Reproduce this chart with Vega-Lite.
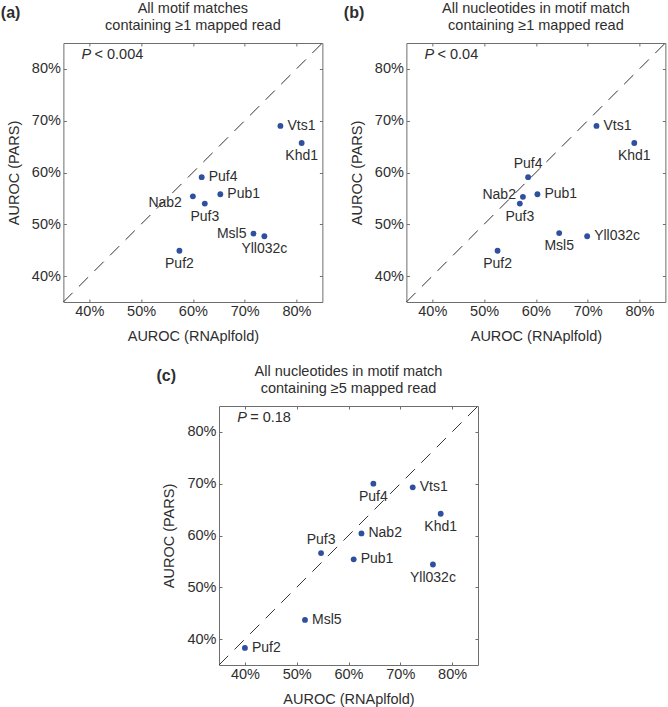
{
  "$schema": "https://vega.github.io/schema/vega-lite/v6.json",
  "padding": {"left": 0, "top": 0, "right": 2, "bottom": 0},
  "background": "white",
  "config": {
    "font": "Liberation Sans",
    "view": {"stroke": "#6e6e6e", "strokeWidth": 1},
    "axis": {
      "grid": false, "domain": false,
      "labelFontSize": 14.5, "titleFontSize": 14.5, "titleFontWeight": "normal",
      "labelColor": "#2e2e2e", "titleColor": "#2e2e2e",
      "tickColor": "#6e6e6e", "tickSize": -3
    },
    "axisX": {"labelPadding": 5, "titlePadding": 12},
    "axisY": {"labelPadding": 6, "titlePadding": 10},
    "title": {"fontSize": 14.5, "fontWeight": "normal", "color": "#2e2e2e", "lineHeight": 17},
    "text": {"font": "Liberation Sans", "fontSize": 14, "color": "#2e2e2e"}
  },
  "datasets": {
    "a": [
      {"name": "Vts1", "x": 76.9, "y": 69.0, "pos": "right"},
      {"name": "Khd1", "x": 81.0, "y": 65.7, "pos": "below"},
      {"name": "Puf4", "x": 61.7, "y": 59.1, "pos": "right"},
      {"name": "Nab2", "x": 60.0, "y": 55.4, "pos": "lowerleft"},
      {"name": "Pub1", "x": 65.3, "y": 55.8, "pos": "right"},
      {"name": "Puf3", "x": 62.3, "y": 54.0, "pos": "below"},
      {"name": "Msl5", "x": 71.7, "y": 48.2, "pos": "left"},
      {"name": "Yll032c", "x": 73.8, "y": 47.7, "pos": "below"},
      {"name": "Puf2", "x": 57.4, "y": 44.9, "pos": "below"}
    ],
    "b": [
      {"name": "Vts1", "x": 71.7, "y": 69.0, "pos": "right"},
      {"name": "Khd1", "x": 79.0, "y": 65.7, "pos": "below"},
      {"name": "Puf4", "x": 58.5, "y": 59.1, "pos": "above"},
      {"name": "Nab2", "x": 57.5, "y": 55.3, "pos": "left"},
      {"name": "Pub1", "x": 60.3, "y": 55.8, "pos": "right"},
      {"name": "Puf3", "x": 56.9, "y": 54.0, "pos": "below"},
      {"name": "Msl5", "x": 64.5, "y": 48.3, "pos": "below"},
      {"name": "Yll032c", "x": 69.9, "y": 47.7, "pos": "right"},
      {"name": "Puf2", "x": 52.6, "y": 44.9, "pos": "below"}
    ],
    "c": [
      {"name": "Vts1", "x": 72.4, "y": 69.3, "pos": "right"},
      {"name": "Khd1", "x": 77.8, "y": 64.2, "pos": "below"},
      {"name": "Puf4", "x": 64.8, "y": 70.0, "pos": "below"},
      {"name": "Nab2", "x": 62.5, "y": 60.4, "pos": "right"},
      {"name": "Puf3", "x": 54.7, "y": 56.6, "pos": "above"},
      {"name": "Pub1", "x": 61.0, "y": 55.4, "pos": "right"},
      {"name": "Yll032c", "x": 76.3, "y": 54.4, "pos": "below"},
      {"name": "Msl5", "x": 51.6, "y": 43.7, "pos": "right"},
      {"name": "Puf2", "x": 40.0, "y": 38.3, "pos": "right"}
    ],
    "diag": [{"x": 35, "y": 35}, {"x": 85, "y": 85}],
    "ann": [{"x": 38.5, "y": 82.7}]
  },
  "vconcat": [
    {
      "hconcat": [
        {
          "title": {"text": "(a)", "anchor": "start", "frame": "bounds", "fontWeight": "bold", "fontSize": 16, "offset": -21, "dx": -5},
          "vconcat": [
            {
              "width": 259, "height": 259,
              "title": {"text": ["All motif matches", "containing ≥1 mapped read"], "anchor": "middle", "offset": 7},
              "resolve": {"scale": {"x": "independent", "y": "independent"}},
              "layer": [
                {
                  "encoding": {
                    "x": {"field": "x", "type": "quantitative", "scale": {"domain": [35, 85], "nice": false, "zero": false},
                      "axis": {"values": [40, 50, 60, 70, 80], "labelExpr": "datum.value + '%'", "title": "AUROC (RNAplfold)"}},
                    "y": {"field": "y", "type": "quantitative", "scale": {"domain": [35, 85], "nice": false, "zero": false},
                      "axis": {"values": [40, 50, 60, 70, 80], "labelExpr": "datum.value + '%'", "title": "AUROC (PARS)"}}
                  },
                  "layer": [
                    {"data": {"name": "diag"}, "mark": {"type": "line", "color": "#333333", "strokeWidth": 1, "strokeDash": [13, 9]}},
                    {"data": {"name": "a"}, "mark": {"type": "circle", "size": 34, "color": "#2f4f9f", "opacity": 1}},
                    {"data": {"name": "a"}, "transform": [{"filter": "datum.pos == 'right'"}], "mark": {"type": "text", "align": "left", "baseline": "middle", "dx": 7}, "encoding": {"text": {"field": "name"}}},
                    {"data": {"name": "a"}, "transform": [{"filter": "datum.pos == 'left'"}], "mark": {"type": "text", "align": "right", "baseline": "middle", "dx": -7}, "encoding": {"text": {"field": "name"}}},
                    {"data": {"name": "a"}, "transform": [{"filter": "datum.pos == 'lowerleft'"}], "mark": {"type": "text", "align": "right", "baseline": "middle", "dx": -11, "dy": 7}, "encoding": {"text": {"field": "name"}}},
                    {"data": {"name": "a"}, "transform": [{"filter": "datum.pos == 'above'"}], "mark": {"type": "text", "align": "center", "baseline": "middle", "dy": -13}, "encoding": {"text": {"field": "name"}}},
                    {"data": {"name": "a"}, "transform": [{"filter": "datum.pos == 'below'"}], "mark": {"type": "text", "align": "center", "baseline": "middle", "dy": 13}, "encoding": {"text": {"field": "name"}}},
                    {"data": {"name": "ann"}, "mark": {"type": "text", "align": "left", "baseline": "middle", "fontSize": 14.5, "fontStyle": "italic", "text": "P"}},
                    {"data": {"name": "ann"}, "mark": {"type": "text", "align": "left", "baseline": "middle", "fontSize": 14.5, "dx": 13, "text": "< 0.004"}}
                  ]
                },
                {
                  "data": {"name": "diag"},
                  "mark": {"type": "point", "opacity": 0},
                  "encoding": {
                    "x": {"field": "x", "type": "quantitative", "scale": {"domain": [35, 85], "nice": false, "zero": false},
                      "axis": {"orient": "top", "values": [40, 50, 60, 70, 80], "labels": false, "title": null}},
                    "y": {"field": "y", "type": "quantitative", "scale": {"domain": [35, 85], "nice": false, "zero": false},
                      "axis": {"orient": "right", "values": [40, 50, 60, 70, 80], "labels": false, "title": null}}
                  }
                }
              ]
            }
          ]
        },
        {
          "title": {"text": "(b)", "anchor": "start", "frame": "bounds", "fontWeight": "bold", "fontSize": 16, "offset": -21, "dx": -5},
          "vconcat": [
            {
              "width": 259, "height": 259,
              "title": {"text": ["All nucleotides in motif match", "containing ≥1 mapped read"], "anchor": "middle", "offset": 7},
              "resolve": {"scale": {"x": "independent", "y": "independent"}},
              "layer": [
                {
                  "encoding": {
                    "x": {"field": "x", "type": "quantitative", "scale": {"domain": [35, 85], "nice": false, "zero": false},
                      "axis": {"values": [40, 50, 60, 70, 80], "labelExpr": "datum.value + '%'", "title": "AUROC (RNAplfold)"}},
                    "y": {"field": "y", "type": "quantitative", "scale": {"domain": [35, 85], "nice": false, "zero": false},
                      "axis": {"values": [40, 50, 60, 70, 80], "labelExpr": "datum.value + '%'", "title": "AUROC (PARS)"}}
                  },
                  "layer": [
                    {"data": {"name": "diag"}, "mark": {"type": "line", "color": "#333333", "strokeWidth": 1, "strokeDash": [13, 9]}},
                    {"data": {"name": "b"}, "mark": {"type": "circle", "size": 34, "color": "#2f4f9f", "opacity": 1}},
                    {"data": {"name": "b"}, "transform": [{"filter": "datum.pos == 'right'"}], "mark": {"type": "text", "align": "left", "baseline": "middle", "dx": 7}, "encoding": {"text": {"field": "name"}}},
                    {"data": {"name": "b"}, "transform": [{"filter": "datum.pos == 'left'"}], "mark": {"type": "text", "align": "right", "baseline": "middle", "dx": -7, "dy": -2}, "encoding": {"text": {"field": "name"}}},
                    {"data": {"name": "b"}, "transform": [{"filter": "datum.pos == 'above'"}], "mark": {"type": "text", "align": "center", "baseline": "middle", "dy": -13}, "encoding": {"text": {"field": "name"}}},
                    {"data": {"name": "b"}, "transform": [{"filter": "datum.pos == 'below'"}], "mark": {"type": "text", "align": "center", "baseline": "middle", "dy": 13}, "encoding": {"text": {"field": "name"}}},
                    {"data": {"name": "ann"}, "mark": {"type": "text", "align": "left", "baseline": "middle", "fontSize": 14.5, "fontStyle": "italic", "text": "P"}},
                    {"data": {"name": "ann"}, "mark": {"type": "text", "align": "left", "baseline": "middle", "fontSize": 14.5, "dx": 13, "text": "< 0.04"}}
                  ]
                },
                {
                  "data": {"name": "diag"},
                  "mark": {"type": "point", "opacity": 0},
                  "encoding": {
                    "x": {"field": "x", "type": "quantitative", "scale": {"domain": [35, 85], "nice": false, "zero": false},
                      "axis": {"orient": "top", "values": [40, 50, 60, 70, 80], "labels": false, "title": null}},
                    "y": {"field": "y", "type": "quantitative", "scale": {"domain": [35, 85], "nice": false, "zero": false},
                      "axis": {"orient": "right", "values": [40, 50, 60, 70, 80], "labels": false, "title": null}}
                  }
                }
              ]
            }
          ]
        }
      ],
      "spacing": 17
    },
    {
      "hconcat": [
        {
          "title": {"text": "(c)", "anchor": "start", "frame": "bounds", "fontWeight": "bold", "fontSize": 16, "offset": -21, "dx": -5},
          "vconcat": [
            {
              "width": 259, "height": 259,
              "title": {"text": ["All nucleotides in motif match", "containing ≥5 mapped read"], "anchor": "middle", "offset": 7},
              "resolve": {"scale": {"x": "independent", "y": "independent"}},
              "layer": [
                {
                  "encoding": {
                    "x": {"field": "x", "type": "quantitative", "scale": {"domain": [35, 85], "nice": false, "zero": false},
                      "axis": {"values": [40, 50, 60, 70, 80], "labelExpr": "datum.value + '%'", "title": "AUROC (RNAplfold)"}},
                    "y": {"field": "y", "type": "quantitative", "scale": {"domain": [35, 85], "nice": false, "zero": false},
                      "axis": {"values": [40, 50, 60, 70, 80], "labelExpr": "datum.value + '%'", "title": "AUROC (PARS)"}}
                  },
                  "layer": [
                    {"data": {"name": "diag"}, "mark": {"type": "line", "color": "#333333", "strokeWidth": 1, "strokeDash": [13, 9]}},
                    {"data": {"name": "c"}, "mark": {"type": "circle", "size": 34, "color": "#2f4f9f", "opacity": 1}},
                    {"data": {"name": "c"}, "transform": [{"filter": "datum.pos == 'right'"}], "mark": {"type": "text", "align": "left", "baseline": "middle", "dx": 7}, "encoding": {"text": {"field": "name"}}},
                    {"data": {"name": "c"}, "transform": [{"filter": "datum.pos == 'above'"}], "mark": {"type": "text", "align": "center", "baseline": "middle", "dy": -13}, "encoding": {"text": {"field": "name"}}},
                    {"data": {"name": "c"}, "transform": [{"filter": "datum.pos == 'below'"}], "mark": {"type": "text", "align": "center", "baseline": "middle", "dy": 13}, "encoding": {"text": {"field": "name"}}},
                    {"data": {"name": "ann"}, "mark": {"type": "text", "align": "left", "baseline": "middle", "fontSize": 14.5, "fontStyle": "italic", "text": "P"}},
                    {"data": {"name": "ann"}, "mark": {"type": "text", "align": "left", "baseline": "middle", "fontSize": 14.5, "dx": 13, "text": "= 0.18"}}
                  ]
                },
                {
                  "data": {"name": "diag"},
                  "mark": {"type": "point", "opacity": 0},
                  "encoding": {
                    "x": {"field": "x", "type": "quantitative", "scale": {"domain": [35, 85], "nice": false, "zero": false},
                      "axis": {"orient": "top", "values": [40, 50, 60, 70, 80], "labels": false, "title": null}},
                    "y": {"field": "y", "type": "quantitative", "scale": {"domain": [35, 85], "nice": false, "zero": false},
                      "axis": {"orient": "right", "values": [40, 50, 60, 70, 80], "labels": false, "title": null}}
                  }
                }
              ]
            }
          ]
        },
        {
          "width": 31, "height": 1,
          "view": {"stroke": null},
          "data": {"values": []},
          "mark": "point"
        }
      ],
      "spacing": 0
    }
  ],
  "spacing": 19,
  "center": true
}
